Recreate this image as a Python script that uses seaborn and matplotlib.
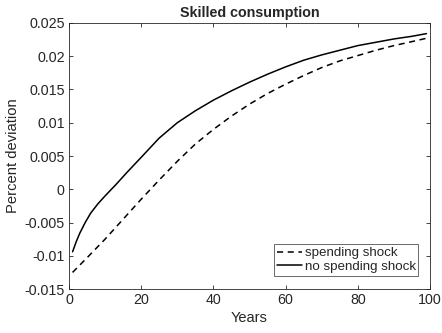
import matplotlib
matplotlib.use("Agg")
import matplotlib.pyplot as plt
import pandas as pd
import seaborn as sns

# values
yearsShock = [1, 5, 10, 15, 20, 25, 30, 35, 40, 45, 50, 55, 60, 65, 70, 75, 80, 85, 90, 95, 99]
spendingShock = [-0.0125, -0.0103, -0.0075, -0.0045, -0.0015, 0.0014, 0.0042, 0.0068, 0.0090, 0.0110,
                 0.0128, 0.0144, 0.0158, 0.0171, 0.0183, 0.0193, 0.0201, 0.0209, 0.0216, 0.0222, 0.0227]

yearsNoShock = [1, 2, 3, 4.5, 6, 8, 10, 13, 16, 20, 25, 30, 35, 40, 45, 50, 55, 60, 65, 70, 75, 80, 85, 90, 95, 99]
noSpendingShock = [-0.0094, -0.0079, -0.0066, -0.0050, -0.0036, -0.0022, -0.0010, 0.0007, 0.0025, 0.0048,
                   0.0077, 0.0100, 0.0118, 0.0134, 0.0148, 0.0161, 0.0173, 0.0184, 0.0194, 0.0202,
                   0.0209, 0.0216, 0.0221, 0.0226, 0.0230, 0.0234]

labels = ["spending shock", "no spending shock"]

df = pd.DataFrame({
    "Years": yearsShock + yearsNoShock,
    "Percent deviation": spendingShock + noSpendingShock,
    "series": [labels[0]] * len(yearsShock) + [labels[1]] * len(yearsNoShock)
})

sns.set_style("white")
plt.rcParams['font.family'] = ['Liberation Sans', 'DejaVu Sans']

fig = plt.figure(figsize=(4.42, 3.33), dpi=100)
ax = fig.add_axes([0.156, 0.132, 0.817, 0.799])

sns.lineplot(data=df, x="Years", y="Percent deviation", style="series", style_order=labels,
             dashes={labels[0]: (4, 3), labels[1]: ""}, color="black", linewidth=1.1, ax=ax)

ax.set_xlim(0, 100)
ax.set_ylim(-0.015, 0.025)
ax.set_xticks([0, 20, 40, 60, 80, 100])
ax.set_yticks([-0.015, -0.01, -0.005, 0, 0.005, 0.01, 0.015, 0.02, 0.025])
ax.set_yticklabels(["-0.015", "-0.01", "-0.005", "0", "0.005", "0.01", "0.015", "0.02", "0.025"])
ax.tick_params(direction="in", length=3, width=0.6, colors="#262626", labelsize=10.3,
               top=True, right=True, bottom=True, left=True, labelcolor="#262626", pad=3)
for s in ax.spines.values():
    s.set_color("#262626")
    s.set_linewidth(0.6)

ax.set_title("Skilled consumption", fontsize=10.3, fontweight="bold", pad=4)
ax.set_xlabel("Years", fontsize=10.5, color="#262626", labelpad=3)
ax.set_ylabel("Percent deviation", fontsize=10.6, color="#262626", labelpad=3)

leg = ax.legend(loc="lower right", bbox_to_anchor=(0.975, 0.04), fontsize=9.6, handlelength=1.9,
                handletextpad=0.2, borderpad=0.2, labelspacing=0.1, borderaxespad=0.2,
                fancybox=False, frameon=True)
leg.get_frame().set_edgecolor("#262626")
leg.get_frame().set_linewidth(0.6)

fig.savefig("out.png", dpi=100)
